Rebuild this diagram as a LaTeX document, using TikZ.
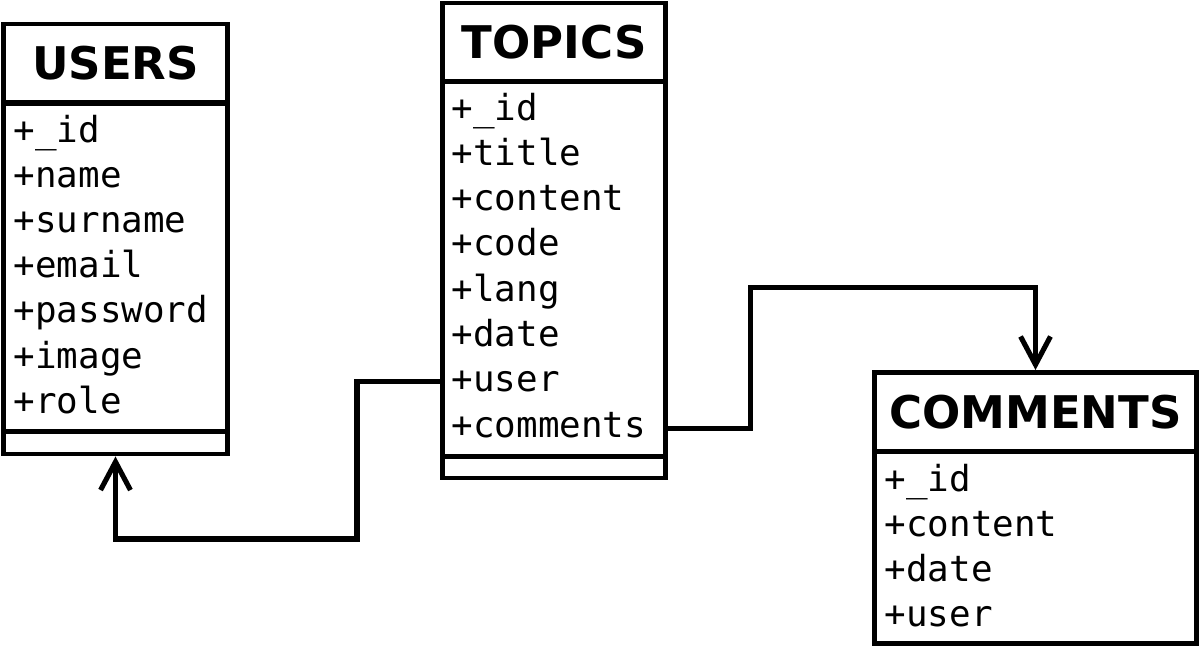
\documentclass[tikz,border=0pt]{standalone}
\usepackage{fontspec}
\setmainfont{DejaVu Sans}
\setmonofont{DejaVu Sans Mono}
\usetikzlibrary{arrows.meta}
\tikzset{
  tblhead/.style={draw, line width=1.4pt, inner sep=0pt, font=\bfseries\fontsize{12.8}{15}\selectfont},
  tblpart/.style={draw, line width=1.4pt, inner sep=0pt},
  attr/.style={anchor=base west, inner sep=0pt, font=\ttfamily\fontsize{10.2}{12}\selectfont},
  link/.style={line width=1.45pt, -{Straight Barb[length=8pt,width=8.5pt]}}
}
\begin{document}
\begin{tikzpicture}[x=0.01cm, y=-0.01cm]
                      \useasboundingbox (0,0) rectangle (1200,647);

                      \node[tblhead, minimum width=2.23cm, minimum height=0.79cm] (uhead) at (115.5,63.5) {USERS};
                      \node[tblpart, minimum width=2.23cm, minimum height=3.285cm] (ubody) at (115.5,267.25) {};
                      \node[tblpart, minimum width=2.23cm, minimum height=0.225cm] (ufoot) at (115.5,442.75) {};
                      \node[attr] (u-id) at (13,142) {+\_id};
                      \node[attr] (u-name) at (13,187.2) {+name};
                      \node[attr] (u-surname) at (13,232.4) {+surname};
                      \node[attr] (u-email) at (13,277.6) {+email};
                      \node[attr] (u-password) at (13,322.8) {+password};
                      \node[attr] (u-image) at (13,368) {+image};
                      \node[attr] (u-role) at (13,413.2) {+role};

                      \node[tblhead, minimum width=2.23cm, minimum height=0.785cm] (thead) at (554,42.25) {TOPICS};
                      \node[tblpart, minimum width=2.23cm, minimum height=3.745cm] (tbody) at (554,268.75) {};
                      \node[tblpart, minimum width=2.23cm, minimum height=0.22cm] (tfoot) at (554,467) {};
                      \node[attr] (t-id) at (451,120) {+\_id};
                      \node[attr] (t-title) at (451,165.3) {+title};
                      \node[attr] (t-content) at (451,210.6) {+content};
                      \node[attr] (t-code) at (451,255.9) {+code};
                      \node[attr] (t-lang) at (451,301.2) {+lang};
                      \node[attr] (t-date) at (451,346.5) {+date};
                      \node[attr] (t-user) at (451,391.8) {+user};
                      \node[attr] (t-comments) at (451,437.1) {+comments};

                      \node[tblhead, minimum width=3.21cm, minimum height=0.785cm] (chead) at (1035.5,411.75) {COMMENTS};
                      \node[tblpart, minimum width=3.21cm, minimum height=1.925cm] (cbody) at (1035.5,547.25) {};
                      \node[attr] (c-id) at (884,491) {+\_id};
                      \node[attr] (c-content) at (884,536) {+content};
                      \node[attr] (c-date) at (884,581) {+date};
                      \node[attr] (c-user) at (884,626) {+user};

                      \draw[link] (t-user.west -| tbody.west) -| (357,539) -| (ufoot.south);
                      \draw[link] ([yshift=-1pt]t-comments.west -| tbody.east) -| (750.5,287.5) -| (chead.north);
                    \end{tikzpicture}
\end{document}
